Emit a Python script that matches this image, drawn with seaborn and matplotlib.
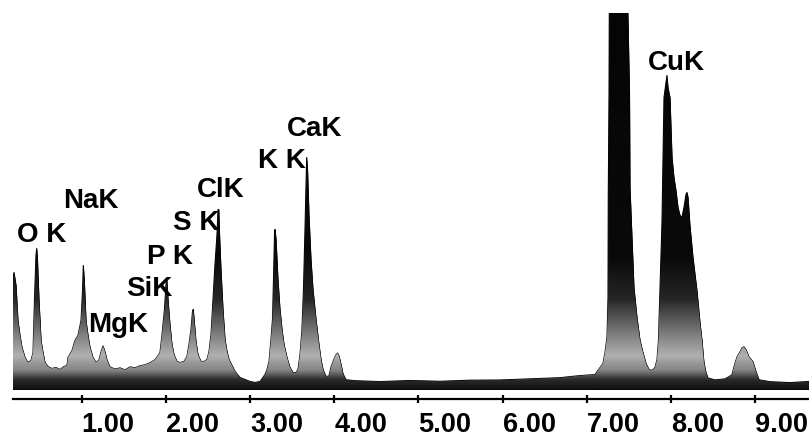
import numpy as np
import pandas as pd
import matplotlib
matplotlib.use("Agg")
import matplotlib.pyplot as plt
import seaborn as sns
from matplotlib.colors import LinearSegmentedColormap

# ---- data (energy in keV, counts in arbitrary units) ----
energy_kev = [
    0.178, 0.196, 0.220, 0.243, 0.267, 0.291, 0.327, 0.362, 0.398, 0.422,
    0.439, 0.457, 0.466, 0.475, 0.493, 0.517, 0.540, 0.564, 0.600, 0.647,
    0.695, 0.742, 0.790, 0.825, 0.837, 0.885, 0.920, 0.956, 0.992, 1.010,
    1.019, 1.031, 1.051, 1.075, 1.099, 1.134, 1.170, 1.205, 1.229, 1.253,
    1.277, 1.300, 1.336, 1.396, 1.455, 1.514, 1.574, 1.633, 1.693, 1.752,
    1.811, 1.871, 1.906, 1.930, 1.954, 1.983, 2.001, 2.011, 2.025, 2.048,
    2.072, 2.096, 2.132, 2.167, 2.215, 2.250, 2.274, 2.298, 2.316, 2.325,
    2.340, 2.357, 2.381, 2.417, 2.452, 2.488, 2.512, 2.536, 2.559, 2.583,
    2.607, 2.619, 2.628, 2.637, 2.654, 2.678, 2.702, 2.726, 2.750, 2.785,
    2.821, 2.880, 2.939, 2.999, 3.058, 3.118, 3.177, 3.201, 3.225, 3.248,
    3.266, 3.278, 3.290, 3.296, 3.308, 3.331, 3.355, 3.379, 3.403, 3.438,
    3.474, 3.510, 3.545, 3.569, 3.593, 3.616, 3.634, 3.652, 3.664, 3.672,
    3.682, 3.699, 3.723, 3.747, 3.783, 3.818, 3.842, 3.866, 3.901, 3.937,
    3.961, 3.997, 4.020, 4.038, 4.056, 4.079, 4.103, 4.139, 4.246, 4.543,
    4.899, 5.255, 5.612, 5.968, 6.324, 6.680, 6.918, 7.096, 7.156, 7.191,
    7.215, 7.239, 7.251, 7.254, 7.263, 7.268, 7.476, 7.506, 7.512, 7.559,
    7.595, 7.631, 7.666, 7.702, 7.738, 7.773, 7.809, 7.833, 7.850, 7.868,
    7.880, 7.892, 7.904, 7.916, 7.939, 7.951, 7.963, 7.987, 8.011, 8.034,
    8.058, 8.082, 8.106, 8.129, 8.153, 8.177, 8.189, 8.201, 8.224, 8.260,
    8.307, 8.343, 8.367, 8.390, 8.414, 8.438, 8.521, 8.640, 8.723, 8.747,
    8.783, 8.818, 8.842, 8.866, 8.890, 8.925, 8.973, 9.009, 9.044, 9.174,
    9.412, 9.638,
]
counts = [
    109, 117, 104, 69, 54, 42, 32, 27, 29, 37,
    89, 134, 141, 129, 89, 49, 37, 27, 23, 21,
    22, 20, 23, 24, 32, 39, 49, 54, 69, 99,
    124, 109, 69, 54, 42, 32, 27, 29.5, 37.5, 43.5,
    37.5, 29.5, 22.5, 20.5, 21.6, 19.6, 22.6, 21.7, 23.7, 24.7,
    26.7, 29.8, 33.8, 37, 55, 80, 105, 110, 90, 65,
    45, 35, 28, 27, 28, 33, 45, 60, 78, 80,
    65, 48, 35, 28, 28, 30, 38, 55, 90, 125,
    155, 180, 180, 155, 120, 80, 50, 38, 30, 24,
    18, 12, 10, 8, 7, 8, 15, 20, 28, 50,
    70, 110, 155, 160, 150, 110, 80, 60, 45, 32,
    22, 17, 17, 20, 35, 60, 100, 160, 205, 232,
    220, 175, 130, 100, 70, 45, 30, 20, 13, 13.5,
    22.5, 30.5, 34.5, 36.5, 33.5, 25.5, 15.7, 9.7, 8.8, 7.9,
    9, 8.2, 9.3, 9.5, 10.6, 11.8, 13.9, 14.9, 22, 26,
    37, 52, 92, 192, 297, 420, 420, 297, 202, 102,
    72, 49, 37, 26, 20, 19, 22, 30, 49, 99,
    132, 167, 232, 292, 307, 314, 302, 292, 232, 212,
    199, 182, 174, 172, 182, 195, 197, 192, 164, 132,
    99, 67, 49, 27, 17, 11.5, 9.6, 10.6, 14.6, 22.6,
    32.6, 37.6, 41.6, 42.7, 39.7, 32.7, 27.7, 17.7, 9.7, 7.8,
    6.9, 8.0,
]

peak_labels = ["O K", "NaK", "MgK", "SiK", "P K", "S K", "ClK", "K K", "CaK", "CuK"]
tick_values = [1, 2, 3, 4, 5, 6, 7, 8, 9]
tick_labels = ["1.00", "2.00", "3.00", "4.00", "5.00", "6.00", "7.00", "8.00", "9.00"]

# ---- layout (label anchor positions, in axis units) ----
label_pos = [
    (0.232, 148), (0.778, 182), (1.075, 58), (1.526, 94), (1.776, 127),
    (2.084, 160), (2.369, 193), (3.094, 223), (3.438, 255), (7.726, 320),
]
XMIN, XMAX = 0.184, 9.638
YMIN, YMAX = -9.5, 376.5

sns.set_theme(style="white")
plt.rcParams["font.family"] = ["Liberation Sans", "DejaVu Sans"]

fig = plt.figure(figsize=(8.09, 4.39), dpi=100)
fig.patch.set_facecolor("white")
ax = fig.add_axes([13 / 809, 39 / 439, 796 / 809, 386 / 439])
ax.set_facecolor("white")

df = pd.DataFrame({"energy": energy_kev, "counts": counts})
sns.lineplot(data=df, x="energy", y="counts", ax=ax, color="black",
             linewidth=0.8, sort=False, estimator=None)
poly = ax.fill_between(df["energy"], 0, df["counts"], color="black", linewidth=0)

# vertical shading inside the peaks (grey near the base, black above)
cmap = LinearSegmentedColormap.from_list(
    "eds",
    [(0.0, "#101010"), (0.025, "#2a2a2a"), (0.05, "#858585"), (0.09, "#b0b0b0"),
     (0.15, "#7a7a7a"), (0.24, "#262626"), (0.35, "#0a0a0a"), (1.0, "#050505")])
grad = np.linspace(0, 1, 500)[:, None]
img = ax.imshow(grad, extent=[XMIN, XMAX, 0, YMAX], origin="lower",
                aspect="auto", cmap=cmap, vmin=0, vmax=1, zorder=2.5,
                interpolation="bilinear")
img.set_clip_path(poly.get_paths()[0], transform=ax.transData)

for txt, (lx, ly) in zip(peak_labels, label_pos):
    ax.text(lx, ly, txt, ha="left", va="baseline", fontsize=20,
            fontweight="bold", color="black", zorder=5)

ax.set_xlim(XMIN, XMAX)
ax.set_ylim(YMIN, YMAX)
ax.set_xticks(tick_values)
ax.set_xticklabels(tick_labels, fontsize=19.5, fontweight="bold")
for lab in ax.get_xticklabels():
    lab.set_horizontalalignment("left")
ax.set_yticks([])
ax.set_xlabel("")
ax.set_ylabel("")
for side in ["top", "left", "right"]:
    ax.spines[side].set_visible(False)
ax.spines["bottom"].set_color("black")
ax.spines["bottom"].set_linewidth(1.6)
ax.tick_params(axis="x", direction="inout", length=6, width=1.6,
               color="black", pad=5.5, labelcolor="black", bottom=True)

fig.savefig("out.png", dpi=100, facecolor="white")
